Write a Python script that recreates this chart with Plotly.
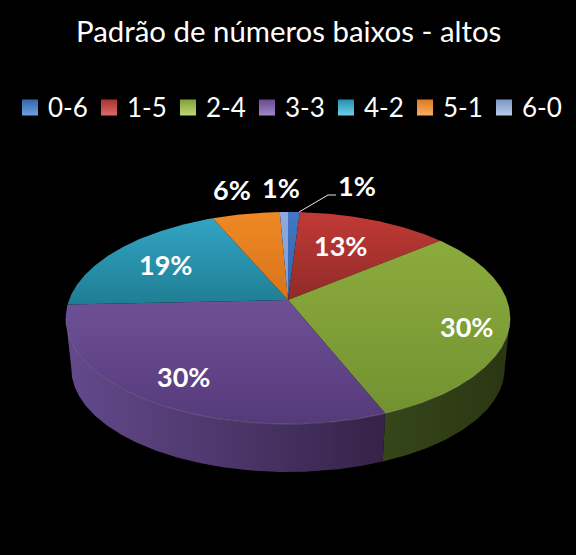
"""Excel-style 3D pie: low/high number pattern shares, drawn as projected polygons."""

import numpy as np
import plotly.graph_objects as go

categories = ["0-6", "1-5", "2-4", "3-3", "4-2", "5-1", "6-0"]
shares = [1.0, 13.0, 29.9, 30.4, 19.2, 5.8, 0.7]

TITLE = "Padrão de números baixos - altos"
FONT = "Lato, Carlito, sans-serif"

# (top of slice, bottom of slice)
_TOP_COLORS = [
    ("#4377c4", "#2f62a8"), ("#c23a36", "#8f2a28"), ("#8cab3d", "#729231"),
    ("#6f5097", "#553a7a"), ("#33a4c4", "#1e7e93"), ("#ee8a24", "#d8731a"),
    ("#8dabdf", "#7c9bd0"),
]
# (swatch body, swatch highlight)
_LEGEND_COLORS = [
    ("#3566a8", "#6f9fe0"), ("#a83230", "#e06a66"), ("#82a03a", "#bcd870"),
    ("#654a90", "#a286cc"), ("#2590ad", "#6cd0e8"), ("#dc7a20", "#f8b060"),
    ("#7a96c4", "#b8cced"),
]
# (left edge, right edge) of the visible rim
_SIDE_COLORS = {
    2: ("#36461a", "#2a3612"),
    3: ("#634a8c", "#352349"),
}

# projection of the pie disc: apex in px, half axes, perspective
CX, CY = 288, 300
RX, RY = 219, 103
PERSP = 0.17
DEPTH = 51
BOTTOM_SCALE = 0.975
# silhouette of the rim, clockwise degrees from 12 o'clock
RIM_FROM, RIM_TO = 99.8, 260.2


def project(deg, drop=0.0, scale=1.0):
    th = np.radians(deg)
    w = 1 + PERSP * np.cos(th)
    return CX + scale * RX * np.sin(th) / w, CY + drop - scale * RY * np.cos(th) / w


def arc(a, b, **kw):
    return project(np.linspace(a, b, max(int(abs(b - a) * 2), 4)), **kw)


def gradient(kind, c0, c1):
    return dict(type=kind, colorscale=[[0, c0], [1, c1]])


bounds = np.cumsum([0] + shares) * 3.6

fig = go.Figure()

# rim first, the top faces overlap its upper edge
for i, (left, right) in _SIDE_COLORS.items():
    a, b = max(bounds[i], RIM_FROM), min(bounds[i + 1], RIM_TO)
    tx, ty = arc(a, b)
    bx, by = arc(a, b, drop=DEPTH, scale=BOTTOM_SCALE)
    fig.add_trace(go.Scatter(
        x=np.r_[tx, bx[::-1]], y=np.r_[ty, by[::-1]], mode="lines", fill="toself",
        line=dict(width=0), fillgradient=gradient("horizontal", left, right),
        showlegend=False, hoverinfo="skip",
    ))

for i, cat in enumerate(categories):
    ax, ay = arc(bounds[i], bounds[i + 1])
    fig.add_trace(go.Scatter(
        x=np.r_[CX, ax, CX], y=np.r_[CY, ay, CY], mode="lines", fill="toself",
        line=dict(width=0), fillgradient=gradient("vertical", _TOP_COLORS[i][1], _TOP_COLORS[i][0]),
        name=cat, showlegend=False,
    ))

# light bevel along the front edge
rx, ry = arc(RIM_FROM, RIM_TO)
fig.add_trace(go.Scatter(x=rx, y=ry, mode="lines", line=dict(width=1, color="rgba(255,255,255,0.16)"),
                         showlegend=False, hoverinfo="skip"))

# legend row
fig.add_trace(go.Scatter(
    x=[30 + i * 79 for i in range(len(categories))], y=[107.5] * len(categories),
    mode="markers",
    marker=dict(symbol="square", size=16, line_width=0,
                color=[c[0] for c in _LEGEND_COLORS],
                gradient=dict(type="vertical", color=[c[1] for c in _LEGEND_COLORS])),
    showlegend=False, hoverinfo="skip",
))
for i, cat in enumerate(categories):
    fig.add_annotation(x=46 + i * 79, y=107, text=cat, showarrow=False, xanchor="left",
                       font=dict(family=FONT, size=26, color="#ffffff"))

# data labels (pixel positions of the Excel layout)
LABEL_POS = [(357, 185), (340, 245), (466, 326), (183, 376), (165, 264), (232, 189), (281, 187)]
for v, (lx, ly) in zip(shares, LABEL_POS):
    fig.add_annotation(x=lx, y=ly, text=f"<b>{v:.0f}%</b>", showarrow=False,
                       font=dict(family=FONT, size=27, color="#ffffff"))

fig.add_shape(type="path", path="M 299 212 L 328 195 L 336 195",
              line=dict(color="#e8e8e8", width=1))

fig.add_annotation(x=288, y=30, text=TITLE, showarrow=False,
                   font=dict(family=FONT, size=29.4, color="#ffffff"))

fig.update_xaxes(range=[0, 576], visible=False, fixedrange=True)
fig.update_yaxes(range=[555, 0], visible=False, fixedrange=True)
fig.update_layout(
    width=576, height=555, margin=dict(l=0, r=0, t=0, b=0),
    paper_bgcolor="#000000", plot_bgcolor="#000000", showlegend=False,
)

# the default page keeps the browser's body margin
fig.write_html("out.html", config={"displayModeBar": False},
               post_script="document.body.style.margin='0';document.body.style.background='#000';")
